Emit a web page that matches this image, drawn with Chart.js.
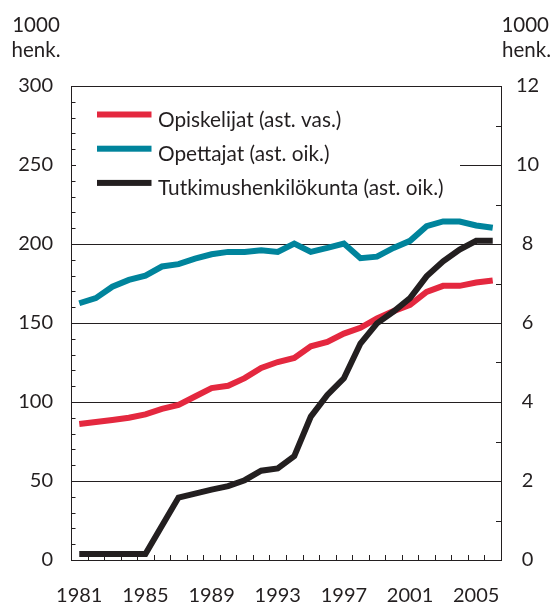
<!DOCTYPE html>
<html>
<head>
<meta charset="utf-8">
<script src="https://cdn.jsdelivr.net/npm/chart.js@4/dist/chart.umd.min.js"></script>
<style>
  html, body { margin: 0; padding: 0; background: #fff; }
  #wrap { width: 552px; height: 604px; position: relative; }
</style>
</head>
<body>
<div id="wrap"><canvas id="c" width="552" height="604"></canvas></div>
<script>
const years = [1981,1982,1983,1984,1985,1986,1987,1988,1989,1990,1991,1992,1993,1994,1995,1996,1997,1998,1999,2000,2001,2002,2003,2004,2005,2006];
const students = [86.1,87.4,88.6,90.0,92.2,95.6,98.2,103.5,108.8,110.3,115.1,121.5,125.3,127.9,135.3,138.0,143.3,147.0,152.9,157.5,161.5,169.7,173.5,173.5,175.6,176.9];
const teachers = [6.5,6.63,6.92,7.09,7.2,7.43,7.49,7.63,7.74,7.8,7.8,7.84,7.8,8.01,7.8,7.9,8.01,7.64,7.68,7.9,8.08,8.45,8.57,8.57,8.47,8.41];
const researchers = [0.15,0.15,0.15,0.15,0.15,0.87,1.58,1.68,1.78,1.87,2.02,2.26,2.32,2.63,3.63,4.18,4.6,5.48,5.99,6.29,6.63,7.18,7.56,7.86,8.08,8.08];
const seriesNames = ['Opiskelijat (ast. vas.)','Opettajat (ast. oik.)','Tutkimushenkilökunta (ast. oik.)'];
const axisTitleLines = ['1000','henk.'];
const leftMax = 300, leftStep = 50, leftMinor = 10;
const rightMax = 12, rightStep = 2, rightMinor = 1;

const INK = '#231f20';
const FONT = 'Lato, "Open Sans", sans-serif';
const colors = ['#e4283f', '#00849c', '#231f20'];

const decor = {
  id: 'decor',
  beforeDatasetsDraw(chart) {
    const ctx = chart.ctx, a = chart.chartArea;
    ctx.save();
    ctx.fillStyle = '#fff';
    ctx.fillRect(a.left + 5, 95, 460 - a.left - 5, 110);
    ctx.font = '20.8px ' + FONT;
    ctx.textBaseline = 'alphabetic';
    chart.data.datasets.forEach((ds, i) => {
      const cy = 114.5 + i * 34.2;
      ctx.fillStyle = ds.borderColor;
      ctx.fillRect(97, cy - 3, 54.5, 6);
      ctx.fillStyle = INK;
      ctx.fillText(ds.label, 158, cy + 12.5);
    });
    ctx.restore();
  },
  afterDraw(chart) {
    const ctx = chart.ctx, a = chart.chartArea;
    const y = chart.scales.y, y2 = chart.scales.y2, x = chart.scales.x;
    ctx.save();
    ctx.strokeStyle = INK;
    ctx.lineWidth = 1;
    ctx.beginPath();
    for (let v = 0; v <= leftMax; v += leftMinor) {
      const py = Math.round(y.getPixelForValue(v)) + 0.5;
      ctx.moveTo(a.left, py); ctx.lineTo(a.left + 4.5, py);
    }
    for (let v = 0; v <= rightMax; v += rightMinor) {
      const py = Math.round(y2.getPixelForValue(v)) + 0.5;
      ctx.moveTo(a.right, py); ctx.lineTo(a.right - 5, py);
    }
    for (let i = 1; i < years.length; i++) {
      const px = Math.round((x.getPixelForValue(i - 1) + x.getPixelForValue(i)) / 2) + 0.5;
      ctx.moveTo(px, a.bottom); ctx.lineTo(px, a.bottom - 5);
    }
    ctx.stroke();
    ctx.fillStyle = INK;
    ctx.font = '20.5px ' + FONT;
    ctx.textBaseline = 'alphabetic';
    ctx.textAlign = 'center';
    ctx.fillText(axisTitleLines[0], 36, 32);
    ctx.fillText(axisTitleLines[1], 36, 57);
    ctx.textAlign = 'right';
    ctx.fillText(axisTitleLines[0], 549, 32);
    ctx.fillText(axisTitleLines[1], 551, 57);
    ctx.restore();
  }
};

new Chart(document.getElementById('c'), {
  type: 'line',
  data: {
    labels: years.map(String),
    datasets: [
      { label: seriesNames[0], data: students, yAxisID: 'y', borderColor: colors[0], order: 1 },
      { label: seriesNames[1], data: teachers, yAxisID: 'y2', borderColor: colors[1], order: 2 },
      { label: seriesNames[2], data: researchers, yAxisID: 'y2', borderColor: colors[2], order: 0 }
    ]
  },
  options: {
    responsive: false,
    animation: false,
    devicePixelRatio: 1,
    layout: { padding: { top: 86, left: 0, right: 0, bottom: 0 } },
    elements: {
      line: { borderWidth: 6, tension: 0, borderCapStyle: 'butt', borderJoinStyle: 'miter', fill: false },
      point: { radius: 0, hoverRadius: 0 }
    },
    plugins: { legend: { display: false }, tooltip: { enabled: false } },
    scales: {
      x: {
        type: 'category',
        offset: true,
        grid: { display: false, drawTicks: false },
        border: { display: true, color: INK, width: 1 },
        ticks: {
          autoSkip: false, maxRotation: 0, minRotation: 0,
          color: INK, font: { family: FONT, size: 20 }, padding: 24,
          callback: function(v, i) { return i % 4 === 0 ? this.getLabelForValue(v) : ''; }
        },
        afterFit(s) { s.height = 44; }
      },
      y: {
        position: 'left', min: 0, max: leftMax,
        grid: { color: INK, lineWidth: 1, drawTicks: false },
        border: { display: true, color: INK, width: 1 },
        ticks: { stepSize: leftStep, color: INK, font: { family: FONT, size: 20 }, padding: 18 },
        afterFit(s) { s.width = 71; }
      },
      y2: {
        position: 'right', min: 0, max: rightMax,
        grid: { display: false, drawTicks: false },
        border: { display: true, color: INK, width: 1 },
        ticks: { stepSize: rightStep, color: INK, font: { family: FONT, size: 20 }, padding: 15, crossAlign: 'center' },
        afterFit(s) { s.width = 51; }
      }
    }
  },
  plugins: [decor]
});
</script>
</body>
</html>
